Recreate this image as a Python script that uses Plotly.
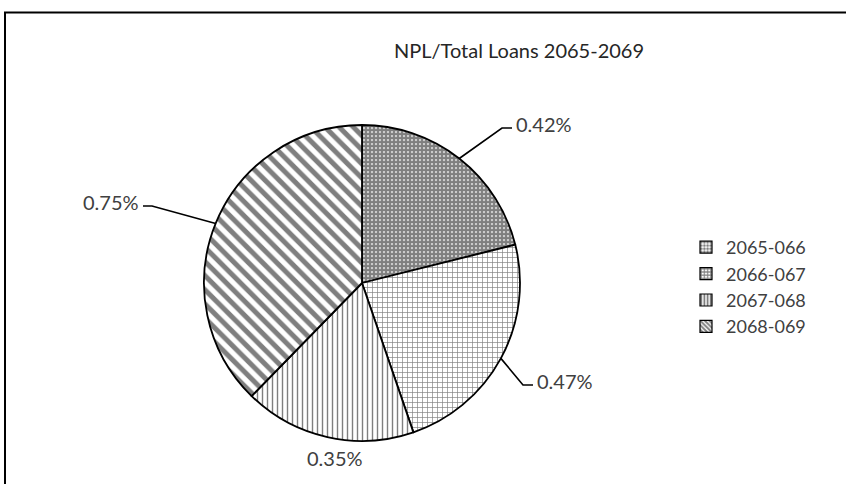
import math
import plotly.graph_objects as go

periods = ["2065-066", "2066-067", "2067-068", "2068-069"]
npl_ratio = [0.42, 0.47, 0.35, 0.75]
value_labels = ["0.42%", "0.47%", "0.35%", "0.75%"]
chart_title = "NPL/Total Loans 2065-2069"

W, H = 846, 484
CX, CY, R = 362, 283, 158
FONT = "Lato, 'Liberation Sans', sans-serif"
TEXT_COLOR = "#404040"

patterns = [
    dict(shape=".", size=4, solidity=0.8),
    dict(shape="+", size=5, solidity=0.25),
    dict(shape="|", size=5, solidity=0.28),
    dict(shape="\\", size=10, solidity=0.5),
]
# elbow point of each leader line and which side the text sits on
label_spots = [(502, 128, "right"), (523, 385, "right"), (335, 458, None), (152, 206, "left")]


def px(x):
    return x / W


def py(y):
    return 1 - y / H


fig = go.Figure()

fig.add_trace(
    go.Pie(
        labels=periods,
        values=npl_ratio,
        sort=False,
        direction="clockwise",
        rotation=0,
        textinfo="none",
        hoverinfo="label+value",
        showlegend=False,
        domain=dict(x=[px(CX - R), px(CX + R)], y=[py(CY + R), py(CY - R)]),
        marker=dict(
            colors=["white"] * 4,
            line=dict(color="black", width=1.8),
            pattern=dict(
                shape=[p["shape"] for p in patterns],
                size=[p["size"] for p in patterns],
                solidity=[p["solidity"] for p in patterns],
                fgcolor="black",
                bgcolor="white",
                fillmode="overlay",
            ),
        ),
    )
)

# legend built from empty bar traces so the swatches keep their patterns
for name, p in zip(periods, patterns):
    fig.add_trace(
        go.Bar(
            x=[None],
            y=[None],
            name=name,
            legendgroup=name,
            marker=dict(
                color="white",
                line=dict(color="black", width=1.2),
                pattern=dict(shape=p["shape"], size=4, solidity=0.6, fgcolor="black", bgcolor="white"),
            ),
        )
    )

shapes = []
annotations = []
total = sum(npl_ratio)
cum = 0
for v, txt, (ex, ey, side) in zip(npl_ratio, value_labels, label_spots):
    ang = 2 * math.pi * (cum + v / 2) / total
    cum += v
    sx = CX + R * math.sin(ang)
    sy = CY - R * math.cos(ang)
    if side is None:
        annotations.append(dict(x=px(ex), y=py(ey), xref="paper", yref="paper", text=txt,
                                showarrow=False, xanchor="center", yanchor="middle"))
        continue
    end_x = ex + 10 if side == "right" else ex - 9
    shapes.append(dict(
        type="path", xref="paper", yref="paper",
        path=f"M {px(sx)},{py(sy)} L {px(ex)},{py(ey)} L {px(end_x)},{py(ey)}",
        line=dict(color="black", width=1.6),
    ))
    annotations.append(dict(
        x=px(end_x + 2 if side == "right" else end_x - 2), y=py(ey - 4),
        xref="paper", yref="paper", text=txt, showarrow=False,
        xanchor="left" if side == "right" else "right", yanchor="middle",
    ))

# chart frame (cut by the image on the right and bottom)
shapes.append(dict(type="rect", xref="paper", yref="paper",
                   x0=px(5), x1=1.05, y0=-0.05, y1=py(12.5),
                   line=dict(color="black", width=2)))

fig.update_layout(
    width=W,
    height=H,
    margin=dict(t=0, r=0, b=0, l=0),
    paper_bgcolor="white",
    plot_bgcolor="white",
    font=dict(family=FONT, size=20, color=TEXT_COLOR),
    title=dict(text=chart_title, x=px(519), xanchor="center", y=py(51), yanchor="middle",
               font=dict(size=20, color="#262626")),
    xaxis=dict(visible=False, domain=[0.9, 0.91]),
    yaxis=dict(visible=False, domain=[0.9, 0.91]),
    legend=dict(
        x=px(686), y=py(229), xanchor="left", yanchor="top",
        traceorder="grouped", tracegroupgap=0,
        font=dict(size=18, color=TEXT_COLOR),
        bgcolor="rgba(0,0,0,0)",
    ),
    shapes=shapes,
    annotations=annotations,
)

fig.write_html(
    "out.html",
    config={"displayModeBar": False},
    post_script="document.body.style.margin='0';",
)
